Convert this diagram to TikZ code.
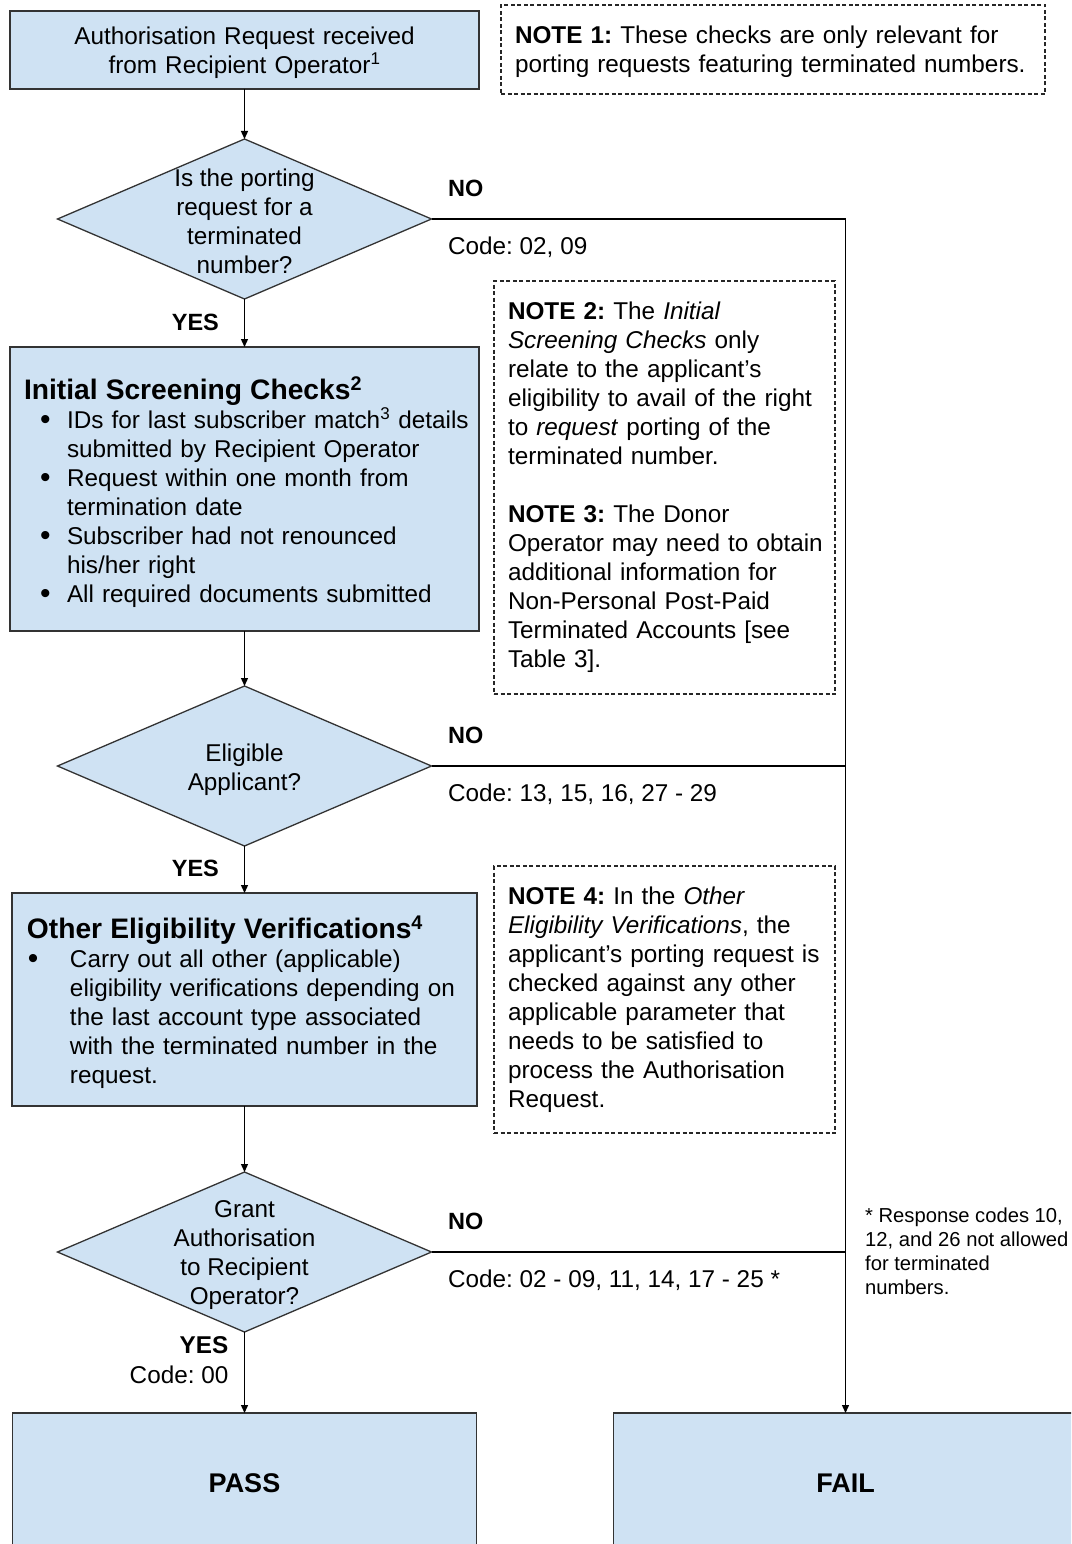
\documentclass[tikz,border=0pt]{standalone}
\usepackage{fontspec}
\setmainfont{Liberation Sans}
\usetikzlibrary{
  arrows.meta,
  shapes.geometric,
  positioning,
  calc
}
\definecolor{pfFill}{HTML}{CFE2F3}
\definecolor{pfLine}{HTML}{333333}
\frenchspacing
\newcommand{\bodyfont}{\fontsize{24.3}{29}\selectfont}
\newcommand{\titlefont}{\fontsize{28.2}{31}\selectfont\bfseries}
\newcommand{\bigdot}{\raisebox{-1pt}{\fontsize{30}{29}\selectfont\textbullet}}
\newcommand{\bitem}[2][16pt]{\mbox{\makebox[43pt][l]{\hspace*{#1}\bigdot}#2}}
\newcommand{\bcont}[1]{\mbox{\hspace*{43pt}#1}}
\tikzset{
  pfnode/.style={
    draw=pfLine, fill=pfFill, line width=1.3pt, outer sep=0pt, font=\bodyfont, align=center
  },
  pfbox/.style={pfnode, rectangle, inner sep=0pt},
  listbox/.style={pfnode, rectangle, align=left, inner xsep=14pt, inner ysep=0pt},
  textdown/.style={execute at end node={\par\vspace{-#1}}},
  decision/.style={pfnode, diamond, minimum width=374pt, minimum height=160pt, inner sep=0pt},
  diatext/.style={font=\bodyfont, align=center, inner sep=0pt, yshift=-2pt},
  notebox/.style={
    draw=black!85, dash pattern=on 4pt off 2.5pt, line width=1.2pt,
    font=\bodyfont, align=left, inner xsep=14pt, inner ysep=0pt
  },
  endbox/.style={pfbox, minimum width=464pt, minimum height=140pt, font=\fontsize{27}{32}\selectfont\bfseries},
  flow/.style={-{Triangle[length=8pt, width=7pt]}, line width=1.3pt, black},
  branch/.style={line width=1.3pt, black},
  yeslab/.style={font=\fontsize{23.5}{29}\selectfont\bfseries, inner sep=0pt, midway, left=25pt},
  nolab/.style={font=\fontsize{23.5}{29}\selectfont\bfseries, inner sep=0pt, anchor=west, xshift=16pt, yshift=31pt},
  codelab/.style={font=\bodyfont, inner sep=0pt, anchor=west, xshift=16pt, yshift=-28.5pt},
  footnote/.style={font=\fontsize{20.2}{24}\selectfont, align=left, inner sep=0pt}
}

\begin{document}
\begin{tikzpicture}[x=1pt, y=-1pt]
  \clip (0,0) rectangle (1071,1544);
  % main column
  \node[pfbox, minimum width=469pt, minimum height=78pt, text width=469pt, textdown=6pt] (req) at (244.5,50)
    {Authorisation Request received\\from Recipient Operator\textsuperscript{1}};
  \node[decision, below=50pt of req,
    label={[diatext]center:{Is the porting\\request for a\\terminated\\number?}}] (q1) {};
  \node[listbox, below=48pt of q1, minimum width=469pt, minimum height=284pt, text width=441pt, textdown=6pt] (isc)
    {{\titlefont Initial Screening Checks\textsuperscript{2}}\\
     \bitem{IDs for last subscriber match\textsuperscript{3} details}\\
     \bcont{submitted by Recipient Operator}\\
     \bitem{Request within one month from}\\
     \bcont{termination date}\\
     \bitem{Subscriber had not renounced}\\
     \bcont{his/her right}\\
     \bitem{All required documents submitted}};
  \node[decision, below=55pt of isc,
    label={[diatext, yshift=-2pt]center:{Eligible\\Applicant?}}] (q2) {};
  \node[listbox, below=47pt of q2, minimum width=465pt, minimum height=213pt,
    inner xsep=15pt, text width=435pt, textdown=5pt] (oev)
    {{\titlefont Other Eligibility Verifications\textsuperscript{4}}\\
     \bitem[1pt]{Carry out all other (applicable)}\\
     \bcont{eligibility verifications depending on}\\
     \bcont{the last account type associated}\\
     \bcont{with the terminated number in the}\\
     \bcont{request.}};
  \node[decision, below=66pt of oev,
    label={[diatext, yshift=-1.5pt]center:{Grant\\Authorisation\\to Recipient\\Operator?}}] (q3) {};
  \node[endbox, below=81pt of q3] (pass) {PASS};
  \node[endbox, right=137pt of pass] (fail) {FAIL};

  % notes
  \node[notebox, minimum width=544pt, minimum height=89pt, text width=516pt, textdown=4pt] (note1) at (773,49.5)
    {\textbf{NOTE 1:} These checks are only relevant for\\porting requests featuring terminated numbers.};
  \node[notebox, minimum width=341pt, minimum height=413pt, text width=313pt] (note2) at (664.5,487.5)
    {\textbf{NOTE 2:} The \textit{Initial}\\
     \textit{Screening Checks} only\\
     relate to the applicant’s\\
     eligibility to avail of the right\\
     to \textit{request} porting of the\\
     terminated number.\\[29pt]
     \textbf{NOTE 3:} The Donor\\
     \mbox{Operator may need to obtain}\\
     additional information for\\
     Non-Personal Post-Paid\\
     Terminated Accounts [see\\
     Table 3].};
  \node[notebox, minimum width=341pt, minimum height=267pt, text width=313pt] (note4) at (664.5,999.5)
    {\textbf{NOTE 4:} In the \textit{Other}\\
     \textit{Eligibility Verifications}, the\\
     \mbox{applicant’s porting request is}\\
     checked against any other\\
     applicable parameter that\\
     needs to be satisfied to\\
     process the Authorisation\\
     Request.};
  \node[footnote, anchor=north west] (fnote) at (865,1207.5)
    {* Response codes 10,\\12, and 26 not allowed\\for terminated\\numbers.};

  % connectors
  \draw[flow] (req) -- (q1);
  \draw[flow] (q1) -- node[yeslab, yshift=1pt] {YES} (isc);
  \draw[flow] (isc) -- (q2);
  \draw[flow] (q2) -- node[yeslab, yshift=1pt] {YES} (oev);
  \draw[flow] (oev) -- (q3);
  \draw[flow] (q3) -- node[pos=0, anchor=north east, xshift=-15.5pt, yshift=-4pt,
    font=\bodyfont, align=right, inner sep=0pt] {\textbf{YES}\\[1pt]Code: 00} (pass);
  \foreach \q/\codes in {q1/{02, 09}, q2/{13, 15, 16, 27 - 29}, q3/{02 - 09, 11, 14, 17 - 25 *}}{
    \draw[branch] (\q.east) node[nolab] {NO} node[codelab] {Code: \codes} -- (\q.east -| fail.north);
  }
  \draw[flow] (q1.east -| fail.north) -- (fail.north);
\end{tikzpicture}
\end{document}
